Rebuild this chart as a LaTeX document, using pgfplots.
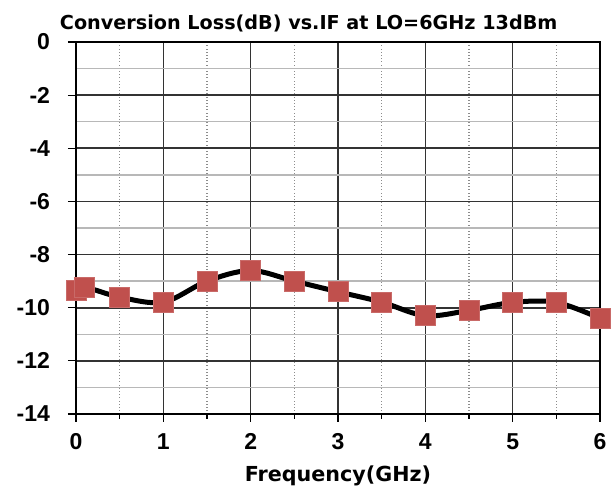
\documentclass[border=0pt]{standalone}
\usepackage{fontspec}
\setmainfont{Liberation Sans}
\newfontfamily\titlefont{DejaVu Sans}
\usepackage{pgfplots}
\pgfplotsset{compat=1.18}
\definecolor{markred}{HTML}{C0504D}

\begin{document}
\begin{tikzpicture}
\begin{axis}[
    scale only axis,
    width=393pt, height=279pt,
    xmin=0, xmax=6, ymin=-14, ymax=0,
    xtick={0,1,2,3,4,5,6},
    ytick={-14,-12,-10,-8,-6,-4,-2,0},
    minor xtick={0.5,1.5,2.5,3.5,4.5,5.5},
    minor ytick={-13,-11,-9,-7,-5,-3,-1},
    tick align=outside,
    major tick length=6pt,
    minor tick length=3.75pt,
    tick pos=left,
    xmajorgrids, ymajorgrids, xminorgrids, yminorgrids,
    major grid style={black!80, line width=1.2pt},
    minor y grid style={black!28, line width=1pt},
    minor x grid style={black!45, dotted, line width=0.8pt},
    minor y tick style={draw=none},
    axis line style={black, line width=1pt},
    every tick/.style={black, line width=0.8pt},
    /pgf/number format/assume math mode=true,
    ticklabel style={font=\fontsize{17.25}{20}\selectfont\bfseries},
    xticklabel style={yshift=-5pt},
    yticklabel style={xshift=-10pt},
    xlabel={Frequency(GHz)},
    xlabel style={font=\titlefont\fontsize{15.5}{18}\selectfont\bfseries, yshift=-5pt},
    title={Conversion Loss(dB) vs.IF at LO=6GHz 13dBm},
    title style={font=\titlefont\fontsize{14.4}{17}\selectfont\bfseries, xshift=-22pt, yshift=-2pt},
    clip=false,
]
\addplot[black, line width=3.75pt, smooth, tension=0.55,
    mark=square*, mark size=7.5pt,
    mark options={fill=markred, draw=markred!85!white, line width=0.6pt}]
coordinates {
    (0.01,-9.33) (0.1,-9.22) (0.5,-9.6) (1,-9.79) (1.5,-9.0) (2,-8.6)
    (2.5,-9.0) (3,-9.4) (3.5,-9.79) (4,-10.3) (4.5,-10.1) (5,-9.8)
    (5.5,-9.8) (6,-10.4)
};
\end{axis}
\pgfresetboundingbox
\useasboundingbox (current axis.south west) ++(-57pt,-60.75pt) rectangle ([shift={(9.75pt,31.5pt)}]current axis.north east);
\end{tikzpicture}
\end{document}
